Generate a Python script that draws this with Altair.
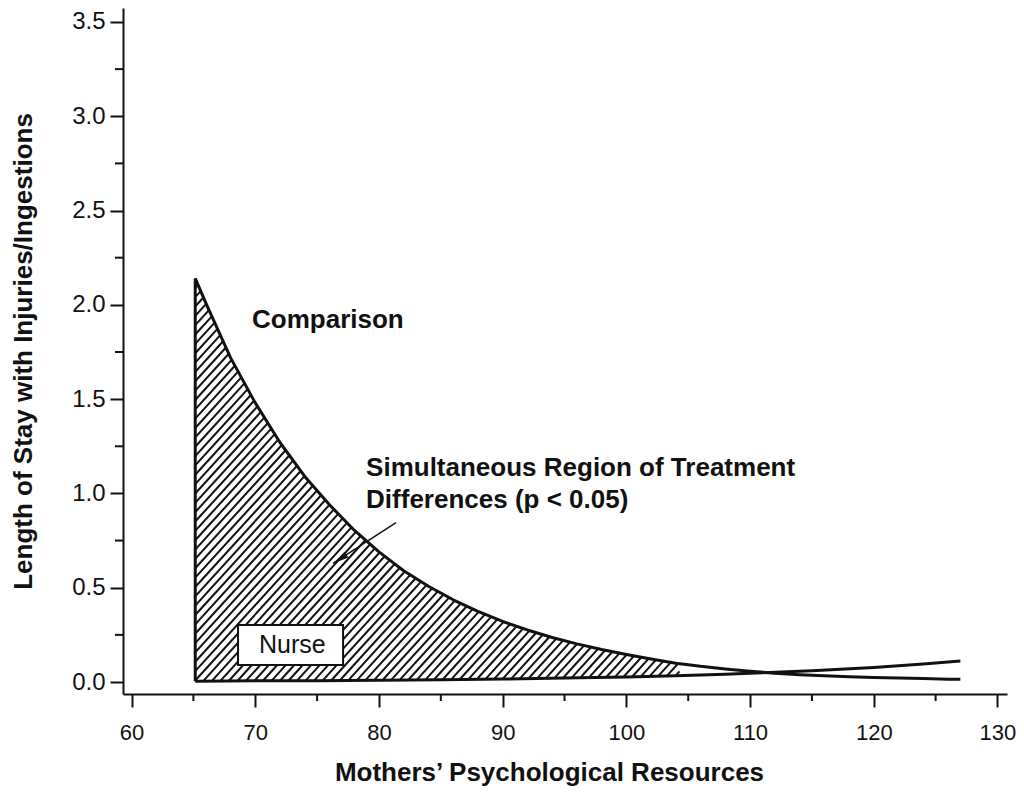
import altair as alt
import numpy as np
import pandas as pd

# ---- data ----
comp_x = [65.15, 66, 68, 70, 72, 74, 76, 78, 80, 82, 84, 86, 88, 90, 92, 94, 96, 98,
          100, 102, 104, 106, 108, 110, 112, 114, 116, 118, 120, 122, 124, 126, 127]
comp_y = [2.14, 2.01, 1.72, 1.48, 1.27, 1.09, 0.94, 0.805, 0.69, 0.59, 0.508, 0.436,
          0.374, 0.321, 0.276, 0.236, 0.202, 0.172, 0.146, 0.122, 0.100, 0.083, 0.069,
          0.057, 0.047, 0.039, 0.033, 0.028, 0.024, 0.021, 0.018, 0.015, 0.014]
nurse_x = [65.15, 70, 75, 80, 85, 90, 95, 100, 104, 108, 111, 115, 120, 124, 127]
nurse_y = [0.004, 0.006, 0.007, 0.009, 0.012, 0.016, 0.021, 0.027, 0.033, 0.041,
           0.049, 0.060, 0.077, 0.095, 0.112]
region_x = [65.15, 104.3]          # simultaneous region of differences

x_ticks = [60, 70, 80, 90, 100, 110, 120, 130]
x_minor = [65, 75, 85, 95, 105, 115, 125]
y_ticks = [0.0, 0.5, 1.0, 1.5, 2.0, 2.5, 3.0, 3.5]
y_minor = [0.25, 0.75, 1.25, 1.75, 2.25, 2.75, 3.25]

labels_text = ["Comparison", "Simultaneous Region of Treatment", "Differences (p < 0.05)"]
labels_x = [69.74, 78.96, 78.96]
labels_y = [1.877, 1.092, 0.924]
nurse_box = {"x": 68.61, "x2": 77.10, "y": 0.090, "y2": 0.302}
nurse_label = {"x": 73.0, "y": 0.155, "t": "Nurse"}
arrow = {"x": 81.38, "y": 0.845, "x2": 76.29, "y2": 0.629}

# ---- layout ----
W, H = 884, 686
XD = [59.31, 130.77]
YD = [-0.0636, 3.574]
FONT = "Liberation Sans"

xsc = alt.Scale(domain=XD, nice=False, zero=False)
ysc = alt.Scale(domain=YD, nice=False, zero=False)

# hatch lines (about 48 degrees on screen) clipped to the region between the curves
pxx = W / (XD[1] - XD[0])
pxy = H / (YD[1] - YD[0])
k = 1.1 * pxx / pxy
xs = np.linspace(region_x[0], region_x[1], 6000)
top = np.interp(xs, comp_x, comp_y)
bot = np.interp(xs, nurse_x, nurse_y)
period = 8.5 / pxx
rows = []
c = region_x[0] - max(comp_y) / k
while c < region_x[1]:
    yl = k * (xs - c)
    idx = np.nonzero((yl >= bot) & (yl <= top))[0]
    if len(idx) > 1:
        a, b = xs[idx[0]], xs[idx[-1]]
        rows.append({"x": a, "y": k * (a - c), "x2": b, "y2": k * (b - c)})
    c += period
hatch = pd.DataFrame(rows)

comp_df = pd.DataFrame({"x": comp_x, "y": comp_y})
nurse_df = pd.DataFrame({"x": nurse_x, "y": nurse_y})

base_x = alt.X("x:Q", scale=xsc,
               axis=alt.Axis(values=x_ticks, title="Mothers\u2019 Psychological Resources",
                             format="d", titleX=426, titleY=86, titleBaseline="alphabetic",
                             labelBaseline="alphabetic", labelPadding=32, labelFontSize=22))
base_y = alt.Y("y:Q", scale=ysc,
               axis=alt.Axis(values=y_ticks, title="Length of Stay with Injuries/Ingestions",
                             format=".1f", titleX=-92, titleY=343, titleBaseline="alphabetic",
                             labelPadding=5, labelFontSize=24))

hatch_l = alt.Chart(hatch).mark_rule(color="#111", strokeWidth=2).encode(
    x=base_x, y=base_y, x2="x2:Q", y2="y2:Q")

left_edge = alt.Chart(pd.DataFrame({"x": [comp_x[0]], "y": [nurse_y[0]], "y2": [comp_y[0]]})
                      ).mark_rule(color="#111", strokeWidth=3).encode(
    x=alt.X("x:Q", scale=xsc), y=alt.Y("y:Q", scale=ysc), y2="y2:Q")

comp_l = alt.Chart(comp_df).mark_line(color="#111", strokeWidth=3, strokeJoin="round").encode(
    x=alt.X("x:Q", scale=xsc), y=alt.Y("y:Q", scale=ysc))
nurse_l = alt.Chart(nurse_df).mark_line(color="#111", strokeWidth=3).encode(
    x=alt.X("x:Q", scale=xsc), y=alt.Y("y:Q", scale=ysc))

box = alt.Chart(pd.DataFrame([nurse_box])).mark_rect(fill="white", stroke="#111",
                                                       strokeWidth=2).encode(
    x=alt.X("x:Q", scale=xsc), x2="x2:Q", y=alt.Y("y:Q", scale=ysc), y2="y2:Q")
box_t = alt.Chart(pd.DataFrame([nurse_label])).mark_text(
    font=FONT, fontSize=25, color="#111", align="center", baseline="alphabetic").encode(
    x=alt.X("x:Q", scale=xsc), y=alt.Y("y:Q", scale=ysc), text="t:N")

ann = alt.Chart(pd.DataFrame({"x": labels_x, "y": labels_y, "t": labels_text})).mark_text(
    font=FONT, fontSize=26, fontWeight="bold", color="#111", align="left",
    baseline="alphabetic").encode(
    x=alt.X("x:Q", scale=xsc), y=alt.Y("y:Q", scale=ysc), text="t:N")

arr_line = alt.Chart(pd.DataFrame([arrow])).mark_rule(color="#111", strokeWidth=1.5).encode(
    x=alt.X("x:Q", scale=xsc), y=alt.Y("y:Q", scale=ysc), x2="x2:Q", y2="y2:Q")
arr_head = alt.Chart(pd.DataFrame([arrow])).mark_point(
    shape="M0,0L-0.22,1L0.22,1Z", filled=True, size=1024, angle=237,
    color="#111", opacity=1).encode(
    x=alt.X("x2:Q", scale=xsc), y=alt.Y("y2:Q", scale=ysc))

ymin = alt.Chart(pd.DataFrame({"v": y_minor})).mark_rule(color="#111", strokeWidth=2).encode(
    y=alt.Y("v:Q", scale=ysc), x=alt.value(-8), x2=alt.value(0))
xmin = alt.Chart(pd.DataFrame({"v": x_minor})).mark_rule(color="#111", strokeWidth=2).encode(
    x=alt.X("v:Q", scale=xsc), y=alt.value(H), y2=alt.value(H + 7))

chart = alt.layer(hatch_l, left_edge, comp_l, nurse_l, box, box_t, ann,
                  arr_line, arr_head, ymin, xmin).properties(
    width=W, height=H,
    padding={"left": 115, "top": 0, "right": 9, "bottom": 92},
    autosize=alt.AutoSizeParams(type="none"),
    background="white",
).configure_view(stroke=None).configure_axis(
    grid=False, domainColor="#111", domainWidth=2, tickColor="#111", tickWidth=2,
    tickSize=13, labelFont=FONT, labelColor="#111",
    titleFont=FONT, titleFontSize=26, titleFontWeight="bold", titleColor="#111",
    labelOverlap=False, labelFlush=False,
)

chart.save("out.html", embed_options={"renderer": "svg", "actions": False})
